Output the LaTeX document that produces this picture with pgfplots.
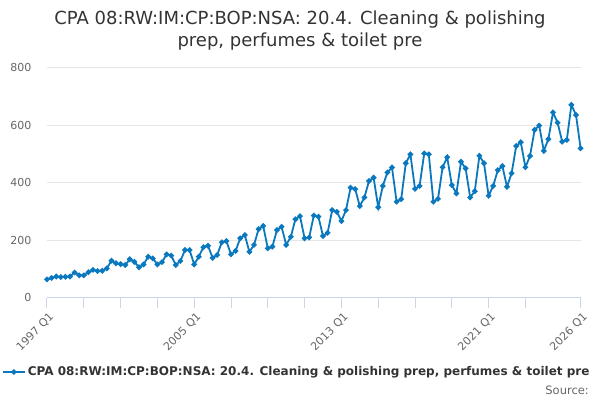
\documentclass[border=0pt]{standalone}
\usepackage{pgfplots}
\pgfplotsset{compat=1.18}
\usepackage{pgfplotstable}
\usepackage{fontspec}
\setmainfont{DejaVu Sans}
\definecolor{onsblue}{HTML}{0A78BE}
\definecolor{titlegray}{HTML}{333333}
\definecolor{labgray}{HTML}{666666}
\definecolor{gridgray}{HTML}{E6E6E6}
\definecolor{axisgray}{HTML}{CCD6EB}
\pgfplotstableread{
i v
0 63
1 68
2 73
3 71
4 72
5 73
6 87
7 77
8 77
9 88
10 96
11 92
12 93
13 101
14 128
15 119
16 116
17 113
18 133
19 124
20 105
21 115
22 142
23 136
24 115
25 123
26 150
27 146
28 113
29 127
30 165
31 165
32 115
33 142
34 175
35 180
36 138
37 148
38 192
39 196
40 150
41 162
42 206
43 217
44 159
45 183
46 238
47 249
48 171
49 177
50 235
51 246
52 183
53 211
54 272
55 283
56 206
57 209
58 285
59 281
60 214
61 225
62 304
63 298
64 266
65 304
66 382
67 377
68 318
69 348
70 405
71 417
72 314
73 388
74 435
75 452
76 333
77 342
78 467
79 498
80 378
81 388
82 501
83 498
84 333
85 343
86 453
87 488
88 391
89 362
90 472
91 449
92 348
93 370
94 493
95 467
96 354
97 388
98 443
99 457
100 385
101 432
102 527
103 540
104 453
105 492
106 583
107 598
108 510
109 551
110 644
111 608
112 542
113 548
114 670
115 635
116 519
}\datatable
\begin{document}
\begin{tikzpicture}
\path[use as bounding box] (0pt,0pt) rectangle (600pt,400pt);
\node[text=titlegray, font=\fontsize{18}{21}\selectfont] at (300pt,380pt) {CPA 08:RW:IM:CP:BOP:NSA: 20.4. Cleaning \& polishing};
\node[text=titlegray, font=\fontsize{18}{21}\selectfont] at (300pt,358pt) {prep, perfumes \& toilet pre};
\node[text=labgray, font=\fontsize{11.5}{13}\selectfont, anchor=east, inner sep=0pt] at (589pt,10pt) {Source:};
\begin{axis}[
  at={(47pt,102.5pt)}, anchor=south west,
  scale only axis, width=533.6pt, height=230pt,
  xmin=0, xmax=116, ymin=0, ymax=800,
  axis x line*=bottom, axis y line*=left,
  x axis line style={draw=axisgray, line width=1pt, -},
  y axis line style={draw=none},
  ytick={0,200,400,600,800},
  yticklabels={0,200,400,600,800},
  ytick style={draw=none},
  ymajorgrids, grid style={draw=gridgray, line width=0.8pt},
  yticklabel style={text=labgray, font=\fontsize{11}{13}\selectfont, anchor=east, xshift=-2pt},
  xtick={0,32,64,96,116},
  xticklabels={1997 Q1,2005 Q1,2013 Q1,2021 Q1,2026 Q1},
  minor xtick={8,16,24,40,48,56,72,80,88,104},
  tick align=outside, major tick length=10pt, minor tick length=10pt,
  xtick style={draw=axisgray, line width=1pt},
  minor x tick style={draw=axisgray, line width=1pt},
  xticklabel style={text=labgray, font=\fontsize{11}{13}\selectfont, rotate=45, anchor=north east, inner sep=1pt, xshift=-1pt, yshift=-3pt},
  clip=false,
  legend style={at={(0.468,-0.324)}, anchor=center, draw=none, fill=none, inner sep=0pt,
    font=\bfseries\fontsize{12}{14}\selectfont, text=titlegray},
  legend image code/.code={\draw[mark repeat=2, mark phase=2] plot coordinates {(0pt,0pt) (11pt,0pt) (22pt,0pt)};},
]
\addplot[onsblue, line width=1.8pt, mark=*, mark size=1.8pt, mark options={solid}] table[x=i, y=v] {\datatable};
\addlegendentry{CPA 08:RW:IM:CP:BOP:NSA: 20.4. Cleaning \& polishing prep, perfumes \& toilet pre}
\end{axis}
\end{tikzpicture}
\end{document}
